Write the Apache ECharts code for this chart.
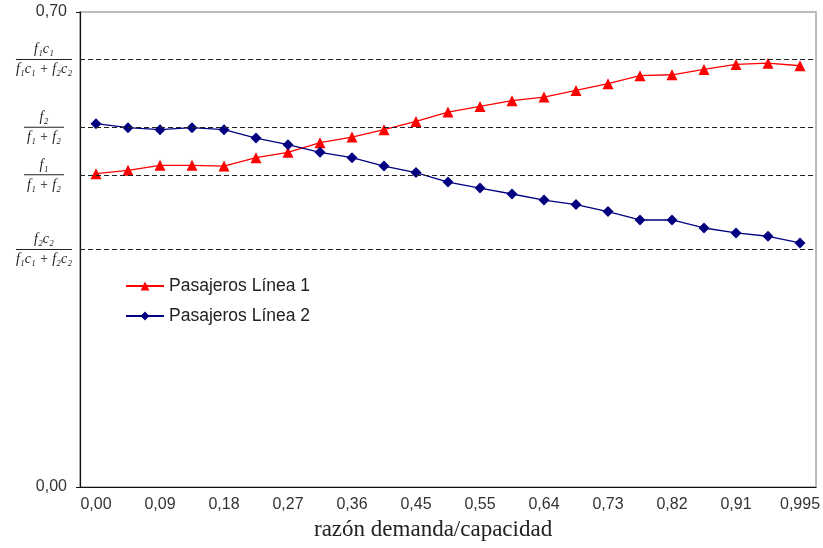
<!DOCTYPE html>
<html>
<head>
<meta charset="utf-8">
<script src="https://cdn.jsdelivr.net/npm/echarts@6/dist/echarts.min.js"></script>
<style>html,body{margin:0;padding:0;background:#fff}#c{width:823px;height:548px}</style>
</head>
<body>
<div id="c"></div>
<script>
var categories = ['0,00','0,045','0,09','0,135','0,18','0,225','0,27','0,315','0,36','0,405','0,45','0,50',
                  '0,55','0,595','0,64','0,685','0,73','0,775','0,82','0,865','0,91','0,95','0,995'];
var linea1 = [0.4618,0.4667,0.4740,0.4740,0.4730,0.4853,0.4932,0.5074,0.5157,0.5266,0.5388,0.5525,
              0.5609,0.5693,0.5746,0.5844,0.5943,0.6061,0.6075,0.6153,0.6227,0.6246,0.6208];
var linea2 = [0.5354,0.5295,0.5266,0.5295,0.5266,0.5142,0.5045,0.4932,0.4853,0.4730,0.4633,0.4494,
              0.4406,0.4318,0.4229,0.4162,0.4059,0.3935,0.3935,0.3817,0.3744,0.3695,0.3596];
var refValues = [0.6286, 0.5304, 0.4553, 0.3499];
var refNum = ['f₁c₁', 'f₂', 'f₁', 'f₂c₂'];
var refDen = ['f₁c₁ + f₂c₂', 'f₁ + f₂', 'f₁ + f₂', 'f₁c₁ + f₂c₂'];
var refWide = [true, false, false, true];
var seriesNames = ['Pasajeros Línea 1', 'Pasajeros Línea 2'];
var xTitle = 'razón demanda/capacidad';

var chart = echarts.init(document.getElementById('c'), null, {renderer: 'canvas'});
var serif = '"Liberation Serif","DejaVu Serif",serif';
var sans = '"Liberation Sans",Arial,sans-serif';

var markData = refValues.map(function (v, i) {
  var w = refWide[i] ? 56 : 40;
  return {
    yAxis: v,
    label: {
      show: true,
      position: 'start',
      distance: refWide[i] ? 8 : 16,
      formatter: '{n|' + refNum[i] + '}\n{b|}\n{d|' + refDen[i] + '}',
      rich: {
        n: {fontFamily: serif, fontStyle: 'italic', fontSize: 14, color: '#222', align: 'center', lineHeight: 16},
        b: {width: w, height: 1, backgroundColor: '#222', align: 'center', lineHeight: 4},
        d: {fontFamily: serif, fontStyle: 'italic', fontSize: 14, color: '#222', align: 'center', lineHeight: 16}
      }
    }
  };
});

chart.setOption({
  animation: false,
  backgroundColor: '#fff',
  grid: {left: 80, right: 5, top: 12, bottom: 61, show: true, borderColor: '#a6a6a6', borderWidth: 1.5},
  legend: {
    orient: 'vertical', left: 120, top: 272, itemGap: 12, itemWidth: 38, itemHeight: 11,
    textStyle: {fontFamily: sans, fontSize: 17.5, color: '#222'},
    data: seriesNames
  },
  xAxis: {
    type: 'category', data: categories, boundaryGap: true,
    axisLine: {lineStyle: {color: '#111', width: 1.2}},
    axisTick: {interval: 1, length: 4, lineStyle: {color: '#111'}},
    axisLabel: {interval: 1, fontFamily: sans, fontSize: 16, color: '#333', margin: 10},
    splitLine: {show: false}
  },
  yAxis: {
    type: 'value', min: 0, max: 0.7, interval: 0.7,
    axisLine: {show: true, lineStyle: {color: '#111', width: 1.2}},
    axisTick: {show: true, length: 4, lineStyle: {color: '#111'}},
    axisLabel: {fontFamily: sans, fontSize: 16, color: '#333', margin: 13,
      formatter: function (v) { return v.toFixed(2).replace('.', ','); }},
    splitLine: {show: false}
  },
  graphic: [{
    type: 'text', left: 314, top: 518,
    style: {text: xTitle, font: '23px ' + serif, fill: '#222'}
  }],
  series: [{
    name: seriesNames[0], type: 'line', data: linea1,
    symbol: 'triangle', symbolSize: 11, showAllSymbol: true,
    itemStyle: {color: '#ff0000'}, lineStyle: {color: '#ff0000', width: 1.3},
    z: 3,
    markLine: {
      silent: true, symbol: 'none',
      lineStyle: {color: '#222', type: [5, 3], width: 1.2},
      data: markData
    }
  }, {
    name: seriesNames[1], type: 'line', data: linea2,
    symbol: 'diamond', symbolSize: 11, showAllSymbol: true,
    itemStyle: {color: '#000080'}, lineStyle: {color: '#000080', width: 1.3},
    z: 4
  }]
});
</script>
</body>
</html>
